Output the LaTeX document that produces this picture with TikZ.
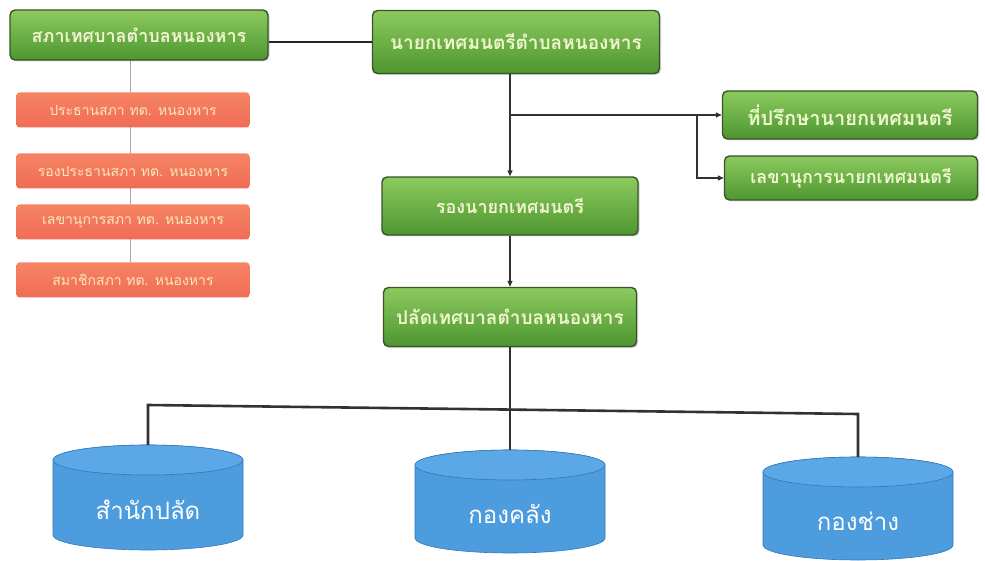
\documentclass[tikz,border=0pt]{standalone}
\usepackage{fontspec}
\newfontfamily\thaifont[Script=Thai]{Loma}
\usetikzlibrary{arrows.meta,shadows,backgrounds,calc}
\definecolor{gtop}{RGB}{140,202,95}
\definecolor{gbot}{RGB}{78,150,48}
\definecolor{gborder}{RGB}{55,85,40}
\definecolor{gtext}{RGB}{240,246,205}
\definecolor{rfill}{RGB}{240,108,86}
\definecolor{rtop}{RGB}{246,132,100}
\definecolor{rtext}{RGB}{252,232,185}
\definecolor{cbody}{RGB}{76,156,222}
\definecolor{ctop}{RGB}{92,168,230}
\definecolor{cedge}{RGB}{50,120,190}
\definecolor{lnk}{RGB}{50,50,50}
\newcommand{\orgcyl}[5]{% name, cx, ytop, height, text
  \fill[cbody, draw=cedge, line width=0.6pt] ({#2-95},{#3+15}) -- ({#2-95},{#3+#4-15})
    arc[start angle=180,end angle=360,x radius=95pt,y radius=15pt]
    -- ({#2+95},{#3+15})
    arc[start angle=0,end angle=180,x radius=95pt,y radius=15pt] -- cycle;
  \filldraw[fill=ctop, draw=cedge, line width=0.6pt] (#2,{#3+15}) ellipse[x radius=95pt, y radius=15pt];
  \node[cylnode, minimum height=#4 pt] (#1) at (#2,{#3+#4/2}) {\raisebox{-22pt}[0pt][0pt]{#5}};
}
\begin{document}
\begin{tikzpicture}[x=1pt,y=-1pt,
  gbox/.style={draw=gborder, line width=1.4pt, rounded corners=5pt, top color=gtop, bottom color=gbot,
    drop shadow={opacity=0.35,shadow xshift=1.5pt,shadow yshift=-1.5pt},
    font=\thaifont\bfseries\fontsize{18}{22}\selectfont, text=gtext, inner sep=0pt},
  rbox/.style={rounded corners=3pt, top color=rtop, bottom color=rfill, minimum width=233pt,
    minimum height=35pt, font=\thaifont\fontsize{14}{16}\selectfont, text=rtext, inner sep=0pt},
  cylnode/.style={minimum width=190pt, inner sep=0pt, text=white, font=\thaifont\fontsize{24}{28}\selectfont},
  arr/.style={draw=lnk, line width=1.3pt, -{Triangle[length=6pt,width=5pt]}},
  link/.style={draw=black!85, line width=1.3pt},
  bus/.style={draw=lnk, line width=2.6pt},
  thinl/.style={draw=black!35, line width=0.6pt}
]
\useasboundingbox (0,0) rectangle (985,561);
\node[gbox, minimum width=258pt, minimum height=50pt] (A) at (139,35) {สภาเทศบาลตำบลหนองหาร};
\node[gbox, minimum width=287pt, minimum height=63pt, font=\thaifont\bfseries\fontsize{19}{22}\selectfont] (B) at (516,42) {นายกเทศมนตรีตำบลหนองหาร};
\node[gbox, minimum width=255pt, minimum height=48pt, font=\thaifont\bfseries\fontsize{20}{22}\selectfont] (D) at (850,115) {ที่ปรึกษานายกเทศมนตรี};
\node[gbox, minimum width=253pt, minimum height=44pt] (E) at (851,178) {เลขานุการนายกเทศมนตรี};
\node[gbox, minimum width=256pt, minimum height=58pt] (C) at (510,206) {รองนายกเทศมนตรี};
\node[gbox, minimum width=253pt, minimum height=59pt, font=\thaifont\bfseries\fontsize{19}{22}\selectfont] (F) at (510,317) {ปลัดเทศบาลตำบลหนองหาร};

\node[rbox] (r1) at (133,110) {ประธานสภา ทต. หนองหาร};
\node[rbox] (r2) at (133,171) {รองประธานสภา ทต. หนองหาร};
\node[rbox] (r3) at (133,222) {เลขานุการสภา ทต. หนองหาร};
\node[rbox] (r4) at (133,280) {สมาชิกสภา ทต. หนองหาร};

\orgcyl{s1}{148}{445}{105}{สำนักปลัด}
\orgcyl{s2}{510}{450}{103}{กองคลัง}
\orgcyl{s3}{858}{457}{103}{กองช่าง}

\begin{scope}[on background layer]
  \coordinate (ta) at (130,60);
  \draw[thinl] (ta) -- (ta |- r4.north);
\end{scope}

\draw[link] (B.west) -- (B.west -| A.east);
\draw[arr] (C.north |- B.south) -- (C.north);
\coordinate (j1) at (C.north |- D.west);
\coordinate (j2) at (697,115);
\draw[arr] (j1) -- (D.west);
\draw[arr] (j2) |- (E.west);
\draw[arr] (C.south) -- (F.north);
\coordinate (bl) at (s1.north |- 0,405);
\coordinate (br) at (s3.north |- 0,414);
\draw[bus] (F.south) -- (s2.north);
\draw[bus] (s1.north) -- (bl) -- (br) -- (s3.north);
\end{tikzpicture}
\end{document}
